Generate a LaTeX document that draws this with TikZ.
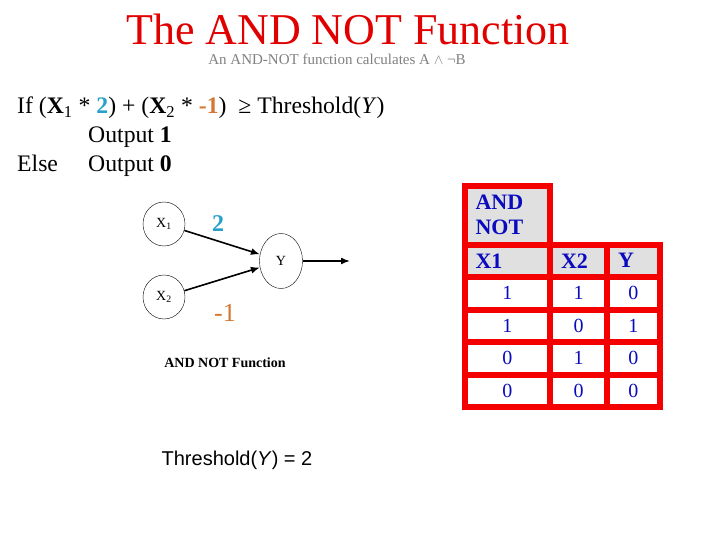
\documentclass[tikz,border=0pt]{standalone}
\usepackage{fontspec}
\setmainfont{Liberation Serif}
\newfontfamily\arialfont{Liberation Sans}
\usetikzlibrary{shapes.geometric,arrows.meta}
\definecolor{titlered}{RGB}{225,0,0}
\definecolor{tabred}{RGB}{245,0,0}
\definecolor{tabblue}{RGB}{10,10,190}
\definecolor{tabgray}{RGB}{224,224,224}
\definecolor{wcyan}{RGB}{40,160,205}
\definecolor{worange}{RGB}{210,120,50}
\newcommand\fsz[1]{\fontsize{#1}{#1}\selectfont}
\tikzset{
  neuron/.style={ellipse, draw, thin, inner sep=0pt, font=\fsz{14}},
  syn/.style={line width=1.6pt, -{Latex[length=9pt,width=7pt]}},
  cell/.style={draw=tabred, line width=6pt, fill=white, anchor=north west, inner sep=0pt, outer sep=0pt,
    minimum height=32.5pt, text=tabblue, font=\fsz{20}},
  hcell/.style={cell, fill=tabgray, align=left, inner xsep=11pt, text width=#1, font=\bfseries\fsz{22}}
}
\begin{document}
\begin{tikzpicture}[x=1pt, y=-1pt]
  \useasboundingbox (0,0) rectangle (720,540);
  \node[titlered, font=\fsz{44}, anchor=base, inner sep=0pt] (title) at (348,45) {The AND NOT Function};
  \node[gray, font=\fsz{15}, anchor=base, inner sep=0pt] (sub) at (337,64.5) {An AND-NOT function calculates A $\wedge$ ¬B};
  \node[font=\fsz{23.7}, anchor=base west, inner sep=0pt] (rule) at (17,114)
    {If (\textbf{X}\textsubscript{1} * \textcolor{wcyan}{\textbf{2}}) + (\textbf{X}\textsubscript{2} * \textcolor{worange}{\textbf{-1}})\ \ ≥ Threshold(\textit{Y})};
  \node[font=\fsz{23.7}, anchor=base west, inner sep=0pt] (out1) at (88,143) {Output \textbf{1}};
  \node[font=\fsz{23.7}, anchor=base west, inner sep=0pt] (else) at (17,172) {Else};
  \node[font=\fsz{23.7}, anchor=base west, inner sep=0pt] (out0) at (88,172) {Output \textbf{0}};

  \node[neuron, minimum width=42pt, minimum height=44pt] (x1) at (164,224) {X\textsubscript{1}};
  \node[neuron, minimum width=42pt, minimum height=44pt] (x2) at (164,297) {X\textsubscript{2}};
  \node[neuron, minimum width=43pt, minimum height=55pt] (y) at (281,261) {Y};
  \coordinate (yout) at (350,261);
  \draw[syn] (x1) -- (y);
  \draw[syn] (x2) -- (y);
  \draw[syn] (y) -- (yout);
  \node[wcyan, font=\bfseries\fsz{24}] (w1) at (218,224) {2};
  \node[worange, font=\fsz{26}] (w2) at (225,313) {-1};
  \node[font=\bfseries\fsz{14}] (cap) at (225,363) {AND NOT Function};
  \node[font=\arialfont\fsz{20}] (thr) at (237,460) {Threshold(\textit{Y}) = 2};

  \node[hcell=63.5pt, minimum height=58.5pt, font=\bfseries\fontsize{22}{25}\selectfont] (tt) at (464.5,186) {AND\\NOT};
  \node[hcell=63.5pt] (h1) at (464.5,244.5) {X1};
  \node[hcell=35pt] (h2) at (550,244.5) {X2};
  \node[hcell=30.5pt] (h3) at (607,244.5) {Y};
  \foreach \a/\b/\c [count=\r] in {1/1/0,1/0/1,0/1/0,0/0/0} {
    \pgfmathsetmacro\yy{277+32.5*(\r-1)}
    \node[cell, minimum width=85.5pt] (a\r) at (464.5,\yy) {\a};
    \node[cell, minimum width=57pt] (b\r) at (550,\yy) {\b};
    \node[cell, minimum width=52.5pt] (c\r) at (607,\yy) {\c};
  }
\end{tikzpicture}
\end{document}
